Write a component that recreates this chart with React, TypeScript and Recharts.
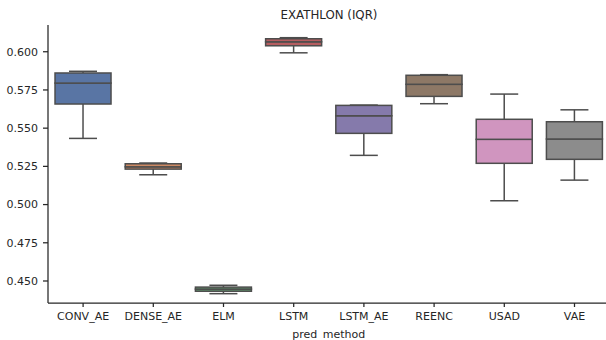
import { ComposedChart, Bar, XAxis, YAxis } from 'recharts';

const categories = ['CONV_AE', 'DENSE_AE', 'ELM', 'LSTM', 'LSTM_AE', 'REENC', 'USAD', 'VAE'];
const whiskerLow = [0.5433, 0.5195, 0.4417, 0.5993, 0.5322, 0.566, 0.5025, 0.516];
const q1 = [0.5658, 0.5232, 0.4433, 0.6039, 0.5466, 0.5708, 0.527, 0.5296];
const median = [0.5795, 0.5247, 0.4447, 0.6065, 0.5581, 0.5787, 0.5427, 0.5429];
const q3 = [0.5861, 0.5267, 0.446, 0.6085, 0.5649, 0.5846, 0.5558, 0.5542];
const whiskerHigh = [0.5872, 0.5272, 0.4472, 0.6092, 0.5651, 0.585, 0.5723, 0.562];
const boxColors = ['#5975a4', '#cc8963', '#5f9e6e', '#b55d60', '#857aab', '#8d7866', '#d095bf', '#8c8c8c'];
const yTicks = [0.45, 0.475, 0.5, 0.525, 0.55, 0.575, 0.6];

const LINE = '#4d4d4d';
const TEXT = '#262626';
const FONT = '"DejaVu Sans", sans-serif';

// stacked pieces: transparent base, lower whisker, lower half box, upper half box, upper whisker
const data = categories.map((name, i) => ({
  name,
  color: boxColors[i],
  base: whiskerLow[i],
  wLo: q1[i] - whiskerLow[i],
  bLo: median[i] - q1[i],
  bHi: q3[i] - median[i],
  wHi: whiskerHigh[i] - q3[i],
}));

const LowWhisker = (p: any) => {
  const cx = p.x + p.width / 2;
  const capY = p.y + p.height;
  return (
    <g>
      <line x1={cx} x2={cx} y1={p.y} y2={capY} stroke={LINE} strokeWidth={1.5} />
      <line x1={cx - p.width / 4} x2={cx + p.width / 4} y1={capY} y2={capY} stroke={LINE} strokeWidth={1.5} />
    </g>
  );
};

const HighWhisker = (p: any) => {
  const cx = p.x + p.width / 2;
  return (
    <g>
      <line x1={cx} x2={cx} y1={p.y} y2={p.y + p.height} stroke={LINE} strokeWidth={1.5} />
      <line x1={cx - p.width / 4} x2={cx + p.width / 4} y1={p.y} y2={p.y} stroke={LINE} strokeWidth={1.5} />
    </g>
  );
};

const BoxHalf = (p: any) => (
  <rect x={p.x} y={p.y} width={p.width} height={p.height} fill={p.payload.color} stroke={LINE} strokeWidth={1.5} />
);

export default function App() {
  return (
    <div style={{ position: 'fixed', left: 0, top: 0, width: 606, height: 340, overflow: 'hidden', background: '#fff' }}>
      <div
        style={{
          position: 'absolute',
          left: 48,
          width: 562,
          top: 8.7,
          textAlign: 'center',
          fontFamily: FONT,
          fontSize: 11.8,
          lineHeight: '12px',
          color: TEXT,
        }}
      >
        EXATHLON (IQR)
      </div>
      <ComposedChart
        width={612}
        height={340}
        data={data}
        margin={{ top: 25, right: 2.4, bottom: 0, left: 0 }}
        barCategoryGap="10%"
      >
        <XAxis
          dataKey="name"
          height={37}
          tickSize={4}
          tickMargin={5.5}
          stroke={TEXT}
          strokeWidth={1.25}
          tick={{ fill: TEXT, fontSize: 11, fontFamily: FONT }}
          label={{ value: 'pred_method', position: 'insideBottom', offset: 2, fill: TEXT, fontSize: 11, fontFamily: FONT }}
        />
        <XAxis
          xAxisId="top"
          dataKey="name"
          orientation="top"
          height={0}
          tick={false}
          tickLine={false}
          stroke={TEXT}
          strokeWidth={1.25}
        />
        <YAxis
          type="number"
          domain={[0.4356, 0.6175]}
          allowDataOverflow
          ticks={yTicks}
          tickFormatter={(v: number) => v.toFixed(3)}
          width={48}
          tickSize={5}
          tickMargin={5}
          stroke={TEXT}
          strokeWidth={1.25}
          tick={{ fill: TEXT, fontSize: 11, fontFamily: FONT }}
        />
        <Bar dataKey="base" stackId="b" fill="transparent" isAnimationActive={false} />
        <Bar dataKey="wLo" stackId="b" shape={LowWhisker} isAnimationActive={false} />
        <Bar dataKey="bLo" stackId="b" shape={BoxHalf} isAnimationActive={false} />
        <Bar dataKey="bHi" stackId="b" shape={BoxHalf} isAnimationActive={false} />
        <Bar dataKey="wHi" stackId="b" shape={HighWhisker} isAnimationActive={false} />
      </ComposedChart>
    </div>
  );
}
